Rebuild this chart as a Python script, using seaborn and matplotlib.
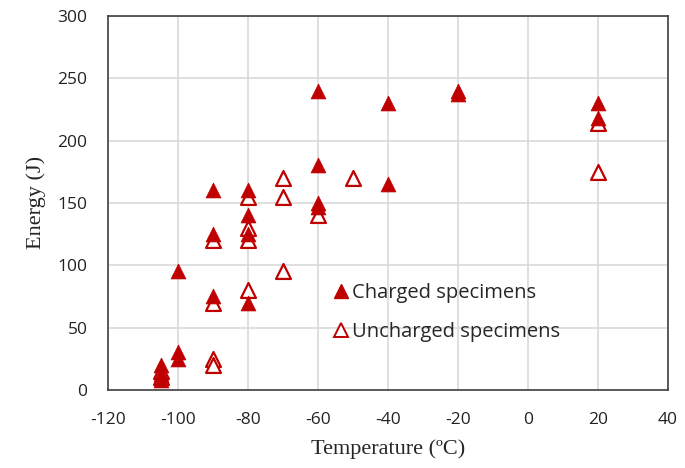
import pandas as pd
import seaborn as sns
import matplotlib.pyplot as plt
from matplotlib.lines import Line2D

# данные
charged_temp = [-105, -105, -105, -100, -100, -100, -90, -90, -90,
                -80, -80, -80, -80, -60, -60, -60, -60, -40, -40, -20, -20, 20, 20]
charged_energy = [20, 13, 8, 95, 30, 25, 160, 125, 75,
                  160, 140, 125, 70, 240, 180, 150, 147, 230, 165, 240, 237, 230, 218]

uncharged_temp = [-105, -105, -90, -90, -90, -90, -80, -80, -80, -80,
                  -70, -70, -70, -60, -50, 20, 20]
uncharged_energy = [15, 10, 120, 70, 25, 20, 155, 130, 120, 80,
                    170, 155, 95, 140, 170, 214, 175]

red = '#C00000'

sns.set_style("whitegrid")
plt.rcParams['font.family'] = ['Open Sans', 'DejaVu Sans']
plt.rcParams['axes.unicode_minus'] = False

fig = plt.figure(figsize=(6.85, 4.68), dpi=100)
ax = fig.add_axes([0.158, 0.167, 0.817, 0.799])

df_c = pd.DataFrame({'t': charged_temp, 'e': charged_energy})
df_u = pd.DataFrame({'t': uncharged_temp, 'e': uncharged_energy})

sns.scatterplot(data=df_u, x='t', y='e', marker='^', s=115,
                facecolor='white', edgecolor=red, linewidth=1.6, ax=ax, zorder=3)
sns.scatterplot(data=df_c, x='t', y='e', marker='^', s=115,
                color=red, edgecolor=red, linewidth=0.5, ax=ax, zorder=4)

ax.set_xlim(-120, 40)
ax.set_ylim(0, 300)
ax.set_xticks(range(-120, 41, 20))
ax.set_yticks(range(0, 301, 50))
ax.tick_params(labelsize=12.5, colors='#222222', length=0)
ax.tick_params(axis='x', pad=16)
ax.tick_params(axis='y', pad=15)
ax.grid(color='#d9d9d9', linewidth=1.2)
for s in ax.spines.values():
    s.set_color('#404040')
    s.set_linewidth(1.2)

ax.set_xlabel('Temperature (ºC)', family='Liberation Serif', fontsize=16, labelpad=8)
ax.set_ylabel('Energy (J)', family='Liberation Serif', fontsize=16, labelpad=8)

handles = [
    Line2D([], [], marker='^', linestyle='', color=red, markersize=10),
    Line2D([], [], marker='^', linestyle='', markerfacecolor='white',
           markeredgecolor=red, markeredgewidth=1.4, markersize=10),
]
ax.legend(handles, ['Charged specimens', 'Uncharged specimens'],
          loc='center left', bbox_to_anchor=(0.405, 0.206), frameon=False,
          fontsize=14.5, handlelength=0.6, handletextpad=0.25,
          labelspacing=0.95, borderpad=0, borderaxespad=0)

plt.savefig('out.png', dpi=100)
